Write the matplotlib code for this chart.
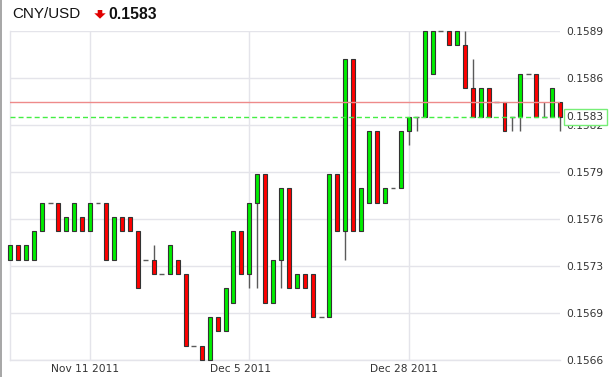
import numpy as np
import pandas as pd
import matplotlib
matplotlib.use("Agg")
import matplotlib.pyplot as plt
from matplotlib.transforms import ScaledTranslation, blended_transform_factory
from matplotlib.patches import Polygon, Rectangle

# ---------------- data ----------------
pair_name = "CNY/USD"
opens = [0.1573, 0.1574, 0.1573, 0.1573, 0.1575, 0.1577, 0.1577, 0.1575, 0.1575, 0.1576,
         0.1575, 0.1577, 0.1577, 0.1573, 0.1576, 0.1576, 0.1575, 0.1573, 0.1573, 0.1572,
         0.1572, 0.1573, 0.1572, 0.1567, 0.1567, 0.1566, 0.1569, 0.1568, 0.1570, 0.1575,
         0.1572, 0.1577, 0.1579, 0.1570, 0.1573, 0.1578, 0.1571, 0.1572, 0.1572, 0.1569,
         0.1569, 0.1579, 0.1575, 0.1587, 0.1575, 0.1577, 0.1582, 0.1577, 0.1578, 0.1578,
         0.1582, 0.1583, 0.1583, 0.1586, 0.1589, 0.1589, 0.1588, 0.1588, 0.1585, 0.1583,
         0.1585, 0.1584, 0.1584, 0.1583, 0.1583, 0.1586, 0.1586, 0.1583, 0.1583, 0.1584]
closes = [0.1574, 0.1573, 0.1574, 0.1575, 0.1577, 0.1577, 0.1575, 0.1576, 0.1577, 0.1575,
          0.1577, 0.1577, 0.1573, 0.1576, 0.1575, 0.1575, 0.1571, 0.1573, 0.1572, 0.1572,
          0.1574, 0.1572, 0.1567, 0.1567, 0.1566, 0.1569, 0.1568, 0.1571, 0.1575, 0.1572,
          0.1577, 0.1579, 0.1570, 0.1573, 0.1578, 0.1571, 0.1572, 0.1571, 0.1569, 0.1569,
          0.1579, 0.1575, 0.1587, 0.1575, 0.1578, 0.1582, 0.1577, 0.1578, 0.1578, 0.1582,
          0.1583, 0.1583, 0.1589, 0.1589, 0.1589, 0.1588, 0.1589, 0.1585, 0.1583, 0.1585,
          0.1583, 0.1584, 0.1582, 0.1583, 0.1586, 0.1586, 0.1583, 0.1583, 0.1585, 0.1583]
highs = [0.1574, 0.1574, 0.1574, 0.1575, 0.1577, 0.1577, 0.1577, 0.1576, 0.1577, 0.1576,
         0.1577, 0.1577, 0.1577, 0.1576, 0.1576, 0.1576, 0.1575, 0.1573, 0.1574, 0.1572,
         0.1574, 0.1573, 0.1572, 0.1567, 0.1567, 0.1569, 0.1569, 0.1571, 0.1575, 0.1575,
         0.1577, 0.1579, 0.1579, 0.1573, 0.1578, 0.1578, 0.1572, 0.1572, 0.1572, 0.1569,
         0.1579, 0.1579, 0.1587, 0.1587, 0.1578, 0.1582, 0.1582, 0.1578, 0.1578, 0.1582,
         0.1583, 0.1583, 0.1589, 0.1589, 0.1589, 0.1589, 0.1589, 0.1589, 0.1587, 0.1585,
         0.1585, 0.1584, 0.1584, 0.1583, 0.1586, 0.1586, 0.1586, 0.1584, 0.1585, 0.1584]
lows = [0.1573, 0.1573, 0.1573, 0.1573, 0.1575, 0.1577, 0.1575, 0.1575, 0.1575, 0.1575,
        0.1575, 0.1577, 0.1573, 0.1573, 0.1575, 0.1575, 0.1571, 0.1573, 0.1572, 0.1572,
        0.1572, 0.1572, 0.1567, 0.1567, 0.1566, 0.1566, 0.1568, 0.1568, 0.1570, 0.1572,
        0.1571, 0.1571, 0.1570, 0.1570, 0.1571, 0.1571, 0.1571, 0.1571, 0.1569, 0.1569,
        0.1569, 0.1575, 0.1573, 0.1575, 0.1575, 0.1577, 0.1577, 0.1577, 0.1578, 0.1578,
        0.1581, 0.1582, 0.1583, 0.1586, 0.1589, 0.1588, 0.1588, 0.1585, 0.1583, 0.1583,
        0.1583, 0.1584, 0.1582, 0.1582, 0.1582, 0.1586, 0.1583, 0.1583, 0.1583, 0.1582]
reference_level = 0.1584
first_date = "2011-10-31"
date_labels = ["Nov 11 2011", "Dec 5 2011", "Dec 28 2011"]

# ---------------- figure ----------------
W, H = 609, 377
fig = plt.figure(figsize=(W / 100, H / 100), dpi=100)
fig.patch.set_facecolor("white")
ax = fig.add_axes([10.3 / W, 1 - 360 / H, (560.3 - 10.3) / W, (360 - 30.7) / H])

o = np.array(opens); c = np.array(closes); hi = np.array(highs); lo = np.array(lows)
n = len(o)
x = np.arange(n)

# trading days (Saturdays excluded)
alldays = pd.date_range(first_date, periods=120, freq="D")
dates = [d for d in alldays if d.weekday() != 5][:n]
date_fmt = [f"{d:%b} {d.day} {d.year}" for d in dates]
tick_pos = [date_fmt.index(lbl) for lbl in date_labels]

ymin, ymax = lo.min(), hi.max()
ax.set_xlim(0, n - 1)
ax.set_ylim(ymin, ymax)

grid_col = "#e4e4ea"
yt = np.linspace(ymin, ymax, 8)
ax.set_yticks(yt)
ax.set_yticklabels([f"{v:.4f}" for v in yt])
ax.yaxis.tick_right()
ax.set_xticks(tick_pos)
ax.set_xticklabels(date_labels)
ax.tick_params(axis="both", length=0, labelsize=7.7, labelcolor="#333333")
ax.tick_params(axis="y", pad=4.5)
ax.tick_params(axis="x", pad=3)
for lab in ax.get_xticklabels():
    lab.set_horizontalalignment("left")
    lab.set_transform(lab.get_transform() + ScaledTranslation(-39 / 100, 0, fig.dpi_scale_trans))
ax.grid(True, color=grid_col, lw=1)
ax.set_axisbelow(True)
for s in ["top", "right"]:
    ax.spines[s].set_visible(False)
for s in ["left", "bottom"]:
    ax.spines[s].set_color(grid_col)
    ax.spines[s].set_linewidth(1)

# wicks
ax.vlines(x, lo, hi, color="#5a5a5a", lw=1, zorder=2, clip_on=False)
# bodies
body = o != c
up = c > o
colors = np.where(up, "#00ee00", "#ff0000")
ax.bar(x[body], np.abs(c - o)[body], bottom=np.minimum(o, c)[body], width=0.5,
       color=colors[body], edgecolor="#333333", linewidth=0.8, zorder=3, clip_on=False)
# dojis
doji = ~body
ax.hlines(o[doji], x[doji] - 0.3, x[doji] + 0.3, color="#5a5a5a", lw=1, zorder=3, clip_on=False)

# reference lines
ax.axhline(reference_level, color="#ee8a8a", lw=1, zorder=4)
last = c[-1]
ax.axhline(last, color="#44ee44", lw=1, dashes=(3.6, 2.2), zorder=4)

# current price box
tr = blended_transform_factory(ax.transAxes, ax.transData) + ScaledTranslation(6.3 / 100, 0, fig.dpi_scale_trans)
ax.text(1, last, f"{last:.4f}", transform=tr, ha="left", va="center", fontsize=7.7,
        color="#333333", zorder=10,
        bbox=dict(boxstyle="square,pad=0.28", fc="white", ec="#77ee77", lw=1))

# title
fig.text(12 / W, 1 - 14.5 / H, pair_name, fontsize=10.9, family="Liberation Sans",
         color="#111111", va="center", ha="left")
arrow_px = [(97.7, 10), (102.3, 10), (102.3, 13.3), (105.7, 13.3), (100, 18.7), (94.3, 13.3), (97.7, 13.3)]
fig.patches.append(Polygon([(px / W, 1 - py / H) for px, py in arrow_px], closed=True,
                           transform=fig.transFigure, color="#e00000", lw=0))
change_dir = "down" if last < reference_level else "up"
fig.text(108 / W, 1 - 14.5 / H, f"{last:.4f}", fontsize=11.3, family="Liberation Sans",
         fontweight="bold", color="#111111", va="center", ha="left")

# left border
fig.patches.append(Rectangle((0, 0), 2 / W, 1, transform=fig.transFigure, color="#a8a8a8", lw=0))

fig.savefig("out.png", dpi=100, facecolor="white")
